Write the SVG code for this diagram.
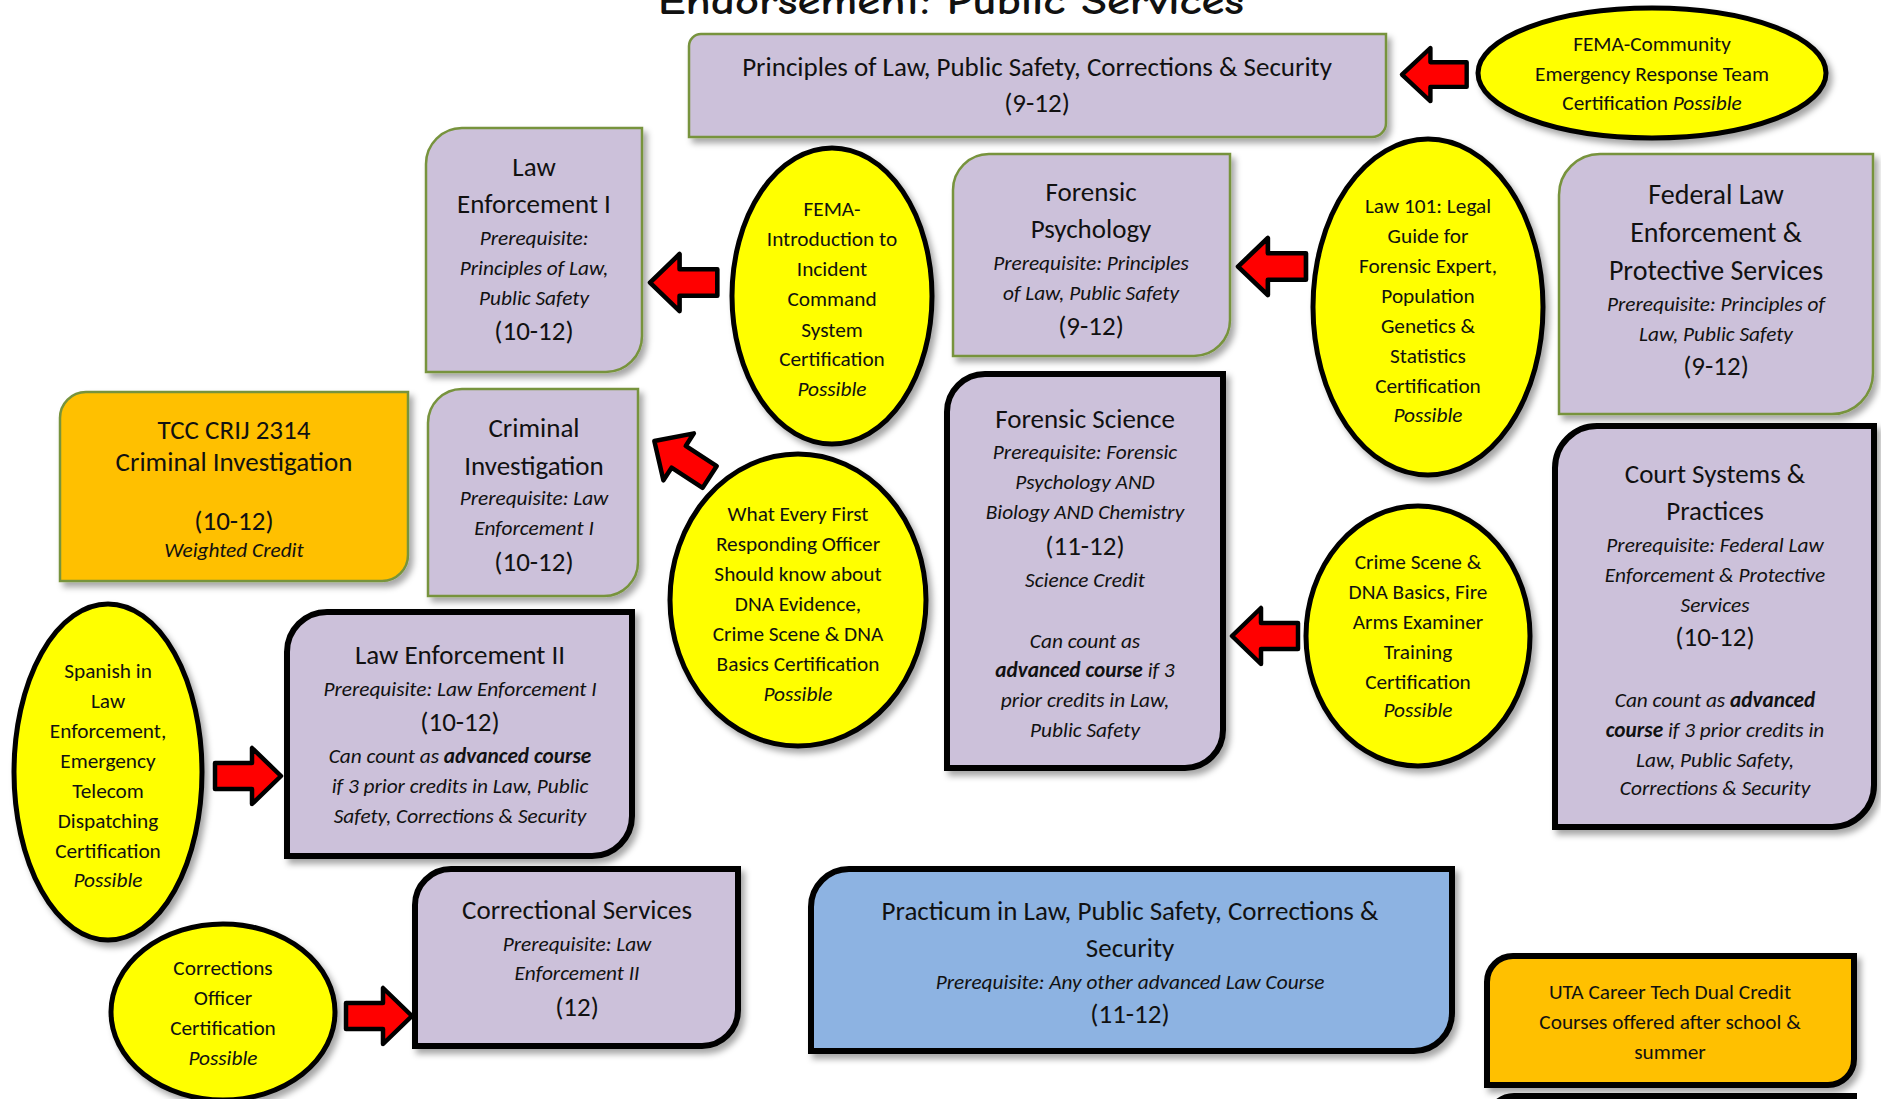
<svg xmlns="http://www.w3.org/2000/svg" xmlns:xlink="http://www.w3.org/1999/xlink" width="1881" height="1099" viewBox="0 0 1881 1099">
<defs>
<filter id="sh" x="-10%" y="-10%" width="125%" height="125%">
<feDropShadow dx="4" dy="5" stdDeviation="3" flood-color="#000" flood-opacity="0.35"/>
</filter>
<path id="arrL" d="M0,28 L29,0 L29,15 L66,15 L66,41 L29,41 L29,56 Z"/>
</defs>
<style>
text{font-family:Carlito,Lato,"Liberation Sans",sans-serif;fill:#111;text-anchor:middle}
.t{font-size:27px}
.i{font-size:21.3px;font-style:italic}
.e{font-size:21.3px}
.b{font-weight:bold}
.lav{fill:#CCC1DA}
.grn{stroke:#77933C;stroke-width:2.5}
.blk{stroke:#000;stroke-width:6}
.ell{fill:#FFFF00;stroke:#000;stroke-width:5}
.arr{fill:#FF0000;stroke:#000;stroke-width:4.5;stroke-linejoin:round}
.title{font-family:"Comic Neue","DejaVu Sans",sans-serif;font-size:38px;font-weight:bold}
</style>
<rect width="1881" height="1099" fill="#fff"/>
<text class="title" x="951" y="14" textLength="586" lengthAdjust="spacingAndGlyphs">Endorsement: Public Services</text>

<g id="connectors">
<use xlink:href="#arrL" class="arr" transform="translate(1402,48) scale(0.98,0.95)"/>
<use xlink:href="#arrL" class="arr" transform="translate(650,254) scale(1.02,1.02)"/>
<use xlink:href="#arrL" class="arr" transform="translate(1238,238) scale(1.03,1.02)"/>
<use xlink:href="#arrL" class="arr" transform="translate(1232,608) scale(1,1)"/>
<use xlink:href="#arrL" class="arr" transform="translate(682,459) rotate(33) translate(-33,-28)"/>
<use xlink:href="#arrL" class="arr" transform="translate(281,748) scale(-1,1)"/>
<use xlink:href="#arrL" class="arr" transform="translate(412,988) scale(-1,1)"/>
</g>

<g id="principles">
<path class="lav grn" filter="url(#sh)" d="M701,34 H1386 V123 A14,14 0 0 1 1372,137 H689 V46 A12,12 0 0 1 701,34 Z"/>
<text class="t" x="1037" y="76">Principles of Law, Public Safety, Corrections &amp; Security</text>
<text class="t" x="1037" y="112">(9-12)</text>
</g>

<g id="fema-community">
<ellipse class="ell" filter="url(#sh)" cx="1652" cy="73" rx="174" ry="65"/>
<text class="e" x="1652" y="51">FEMA-Community</text>
<text class="e" x="1652" y="81">Emergency Response Team</text>
<text class="e" x="1652" y="110">Certification <tspan font-style="italic">Possible</tspan></text>
</g>

<g id="law-enforcement-1">
<path class="lav grn" filter="url(#sh)" d="M462,128 H642 V336 A36,36 0 0 1 606,372 H426 V164 A36,36 0 0 1 462,128 Z"/>
<text class="t" x="534" y="176">Law</text>
<text class="t" x="534" y="213">Enforcement I</text>
<text class="i" x="534" y="245">Prerequisite:</text>
<text class="i" x="534" y="275">Principles of Law,</text>
<text class="i" x="534" y="305">Public Safety</text>
<text class="t" x="534" y="340">(10-12)</text>
</g>

<g id="fema-intro">
<ellipse class="ell" filter="url(#sh)" cx="832" cy="296" rx="100" ry="148"/>
<text class="e" x="832" y="216">FEMA-</text>
<text class="e" x="832" y="246">Introduction to</text>
<text class="e" x="832" y="276">Incident</text>
<text class="e" x="832" y="306">Command</text>
<text class="e" x="832" y="337">System</text>
<text class="e" x="832" y="366">Certification</text>
<text class="i" x="832" y="396">Possible</text>
</g>

<g id="forensic-psychology">
<path class="lav grn" filter="url(#sh)" d="M989,154 H1230 V320 A36,36 0 0 1 1194,356 H953 V190 A36,36 0 0 1 989,154 Z"/>
<text class="t" x="1091" y="201">Forensic</text>
<text class="t" x="1091" y="238">Psychology</text>
<text class="i" x="1091" y="270">Prerequisite: Principles</text>
<text class="i" x="1091" y="300">of Law, Public Safety</text>
<text class="t" x="1091" y="335">(9-12)</text>
</g>

<g id="law-101">
<ellipse class="ell" filter="url(#sh)" cx="1428" cy="307" rx="115" ry="168"/>
<text class="e" x="1428" y="213">Law 101: Legal</text>
<text class="e" x="1428" y="243">Guide for</text>
<text class="e" x="1428" y="273">Forensic Expert,</text>
<text class="e" x="1428" y="303">Population</text>
<text class="e" x="1428" y="333">Genetics &amp;</text>
<text class="e" x="1428" y="363">Statistics</text>
<text class="e" x="1428" y="393">Certification</text>
<text class="i" x="1428" y="422">Possible</text>
</g>

<g id="federal-law">
<path class="lav grn" filter="url(#sh)" d="M1600,154 H1873 V373 A41,41 0 0 1 1832,414 H1559 V195 A41,41 0 0 1 1600,154 Z"/>
<text class="t" x="1716" y="204" style="font-size:28px">Federal Law</text>
<text class="t" x="1716" y="242" style="font-size:28px">Enforcement &amp;</text>
<text class="t" x="1716" y="280" style="font-size:28px">Protective Services</text>
<text class="i" x="1716" y="311">Prerequisite: Principles of</text>
<text class="i" x="1716" y="341">Law, Public Safety</text>
<text class="t" x="1716" y="375">(9-12)</text>
</g>

<g id="tcc-crij">
<path fill="#FFC000" class="grn" filter="url(#sh)" d="M86,392 H408 V555 A26,26 0 0 1 382,581 H60 V418 A26,26 0 0 1 86,392 Z"/>
<text class="t" x="234" y="439">TCC CRIJ 2314</text>
<text class="t" x="234" y="471">Criminal Investigation</text>
<text class="t" x="234" y="530">(10-12)</text>
<text class="i" x="234" y="557">Weighted Credit</text>
</g>

<g id="criminal-investigation">
<path class="lav grn" filter="url(#sh)" d="M462,389 H638 V562 A34,34 0 0 1 604,596 H428 V423 A34,34 0 0 1 462,389 Z"/>
<text class="t" x="534" y="437">Criminal</text>
<text class="t" x="534" y="475">Investigation</text>
<text class="i" x="534" y="505">Prerequisite: Law</text>
<text class="i" x="534" y="535">Enforcement I</text>
<text class="t" x="534" y="571">(10-12)</text>
</g>

<g id="what-every">
<ellipse class="ell" filter="url(#sh)" cx="798" cy="600" rx="128" ry="146"/>
<text class="e" x="798" y="521">What Every First</text>
<text class="e" x="798" y="551">Responding Officer</text>
<text class="e" x="798" y="581">Should know about</text>
<text class="e" x="798" y="611">DNA Evidence,</text>
<text class="e" x="798" y="641">Crime Scene &amp; DNA</text>
<text class="e" x="798" y="671">Basics Certification</text>
<text class="i" x="798" y="701">Possible</text>
</g>

<g id="forensic-science">
<path class="lav blk" filter="url(#sh)" d="M985,374 H1223 V730 A38,38 0 0 1 1185,768 H947 V412 A38,38 0 0 1 985,374 Z"/>
<text class="t" x="1085" y="428">Forensic Science</text>
<text class="i" x="1085" y="459">Prerequisite: Forensic</text>
<text class="i" x="1085" y="489">Psychology AND</text>
<text class="i" x="1085" y="519">Biology AND Chemistry</text>
<text class="t" x="1085" y="555">(11-12)</text>
<text class="i" x="1085" y="587">Science Credit</text>
<text class="i" x="1085" y="648">Can count as</text>
<text class="i" x="1085" y="677"><tspan class="b">advanced course</tspan> if 3</text>
<text class="i" x="1085" y="707">prior credits in Law,</text>
<text class="i" x="1085" y="737">Public Safety</text>
</g>

<g id="crime-scene">
<ellipse class="ell" filter="url(#sh)" cx="1418" cy="636" rx="112" ry="130"/>
<text class="e" x="1418" y="569">Crime Scene &amp;</text>
<text class="e" x="1418" y="599">DNA Basics, Fire</text>
<text class="e" x="1418" y="629">Arms Examiner</text>
<text class="e" x="1418" y="659">Training</text>
<text class="e" x="1418" y="689">Certification</text>
<text class="i" x="1418" y="717">Possible</text>
</g>

<g id="court-systems">
<path class="lav blk" filter="url(#sh)" d="M1597,426 H1874 V785 A42,42 0 0 1 1832,827 H1555 V468 A42,42 0 0 1 1597,426 Z"/>
<text class="t" x="1715" y="483">Court Systems &amp;</text>
<text class="t" x="1715" y="520">Practices</text>
<text class="i" x="1715" y="552">Prerequisite: Federal Law</text>
<text class="i" x="1715" y="582">Enforcement &amp; Protective</text>
<text class="i" x="1715" y="612">Services</text>
<text class="t" x="1715" y="646">(10-12)</text>
<text class="i" x="1715" y="707">Can count as <tspan class="b">advanced</tspan></text>
<text class="i" x="1715" y="737"><tspan class="b">course</tspan> if 3 prior credits in</text>
<text class="i" x="1715" y="767">Law, Public Safety,</text>
<text class="i" x="1715" y="795">Corrections &amp; Security</text>
</g>

<g id="spanish">
<ellipse class="ell" filter="url(#sh)" cx="108" cy="772" rx="94" ry="168"/>
<text class="e" x="108" y="678">Spanish in</text>
<text class="e" x="108" y="708">Law</text>
<text class="e" x="108" y="738">Enforcement,</text>
<text class="e" x="108" y="768">Emergency</text>
<text class="e" x="108" y="798">Telecom</text>
<text class="e" x="108" y="828">Dispatching</text>
<text class="e" x="108" y="858">Certification</text>
<text class="i" x="108" y="887">Possible</text>
</g>

<g id="law-enforcement-2">
<path class="lav blk" filter="url(#sh)" d="M327,612 H632 V816 A40,40 0 0 1 592,856 H287 V652 A40,40 0 0 1 327,612 Z"/>
<text class="t" x="460" y="664">Law Enforcement II</text>
<text class="i" x="460" y="696">Prerequisite: Law Enforcement I</text>
<text class="t" x="460" y="731">(10-12)</text>
<text class="i" x="460" y="763">Can count as <tspan class="b">advanced course</tspan></text>
<text class="i" x="460" y="793">if 3 prior credits in Law, Public</text>
<text class="i" x="460" y="823">Safety, Corrections &amp; Security</text>
</g>

<g id="corrections-officer">
<ellipse class="ell" filter="url(#sh)" cx="223" cy="1012" rx="112" ry="88"/>
<text class="e" x="223" y="975">Corrections</text>
<text class="e" x="223" y="1005">Officer</text>
<text class="e" x="223" y="1035">Certification</text>
<text class="i" x="223" y="1065">Possible</text>
</g>

<g id="correctional-services">
<path class="lav blk" filter="url(#sh)" d="M451,869 H738 V1010 A36,36 0 0 1 702,1046 H415 V905 A36,36 0 0 1 451,869 Z"/>
<text class="t" x="577" y="919">Correctional Services</text>
<text class="i" x="577" y="951">Prerequisite: Law</text>
<text class="i" x="577" y="980">Enforcement II</text>
<text class="t" x="577" y="1016">(12)</text>
</g>

<g id="practicum">
<path fill="#8DB3E2" class="blk" filter="url(#sh)" d="M849,869 H1452 V1013 A38,38 0 0 1 1414,1051 H811 V907 A38,38 0 0 1 849,869 Z"/>
<text class="t" x="1130" y="920">Practicum in Law, Public Safety, Corrections &amp;</text>
<text class="t" x="1130" y="957">Security</text>
<text class="i" x="1130" y="989">Prerequisite: Any other advanced Law Course</text>
<text class="t" x="1130" y="1023">(11-12)</text>
</g>

<g id="uta">
<path fill="#FFC000" class="blk" filter="url(#sh)" d="M1513,956 H1854 V1059 A26,26 0 0 1 1828,1085 H1487 V982 A26,26 0 0 1 1513,956 Z"/>
<text class="e" x="1670" y="999">UTA Career Tech Dual Credit</text>
<text class="e" x="1670" y="1029">Courses offered after school &amp;</text>
<text class="e" x="1670" y="1059">summer</text>
</g>

<g id="cut-off-box">
<path fill="#FFC000" class="blk" d="M1514,1096 H1854 V1140 H1488 V1122 A26,26 0 0 1 1514,1096 Z"/>
</g>
</svg>
